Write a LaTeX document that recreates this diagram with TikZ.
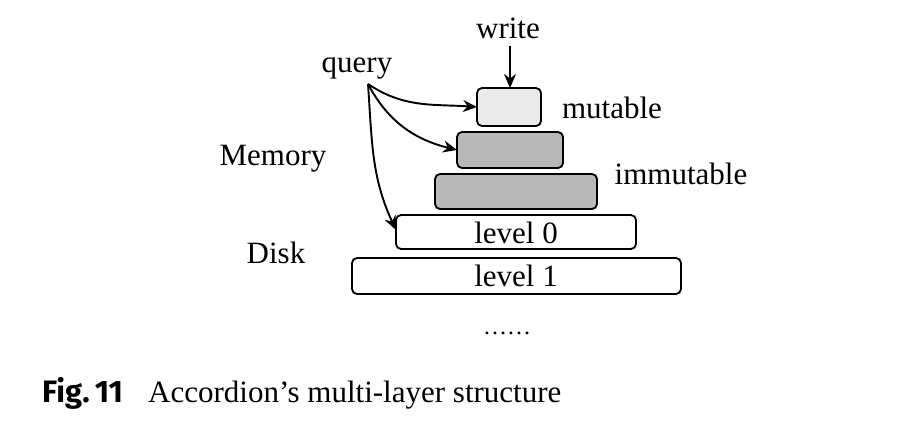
\documentclass[tikz,border=0pt]{standalone}
\usepackage{fontspec}
\setmainfont{Liberation Serif}
\newfontfamily\capsans{Fira Sans}
\usetikzlibrary{arrows.meta}
\definecolor{lightbox}{HTML}{EAEBEA}
\definecolor{darkbox}{HTML}{B8B8B8}
\tikzset{
  layer/.style={draw=black, line width=1.8pt, rounded corners=5pt, inner sep=0pt},
  lbl/.style={font=\fontsize{31}{31}\selectfont, inner sep=0pt, anchor=base},
  qarrow/.style={line width=1.9pt, -{Stealth[length=14pt,width=12pt]}},
}
\begin{document}
\begin{tikzpicture}[x=1pt,y=-1pt]
\useasboundingbox (0,0) rectangle (924,434);
% boxes
\draw[layer, fill=lightbox] (477,88) rectangle (541,126);
\coordinate (mutW) at (477,107);
\draw[layer, fill=darkbox] (457,132) rectangle (563,168);
\coordinate (imm1W) at (457,150);
\draw[layer, fill=darkbox] (435,174) rectangle (597,209);
\draw[layer, fill=white] (396,215) rectangle (636,249);
\coordinate (l0W) at (396,230);
\draw[layer, fill=white] (352,258) rectangle (681,294);
\node[lbl] (l0) at (516,243) {level 0};
\node[lbl] (l1) at (516,286) {level 1};
% labels
\node[lbl] (write) at (508,38) {write};
\node[lbl] (query) at (357,72) {query};
\node[lbl] (mut) at (612,118) {mutable};
\node[lbl] (immut) at (681,184) {immutable};
\node[lbl] (mem) at (273,165) {Memory};
\node[lbl] (disk) at (276,263) {Disk};
\node[lbl, font=\fontsize{24}{24}\selectfont] (dots) at (507,334) {……};
\coordinate (mutN) at (510,88);
\coordinate (wS) at (510,46);
\coordinate (qS) at (368,84);
% arrows
\draw[qarrow] (wS) -- (mutN);
\draw[qarrow] (qS) to[out=-34,in=176] (mutW);
\draw[qarrow] (qS) to[out=-62,in=166] (imm1W);
\draw[qarrow] (qS) to[out=-86,in=115] (l0W);
% caption
\node[anchor=base west, inner sep=0pt, font=\capsans\bfseries\fontsize{31}{31}\selectfont] (fig) at (42,402) {Fig.\,11};
\node[anchor=base west, inner sep=0pt, font=\fontsize{31}{31}\selectfont] (cap) at (148,402) {Accordion’s multi-layer structure};
\end{tikzpicture}
\end{document}
